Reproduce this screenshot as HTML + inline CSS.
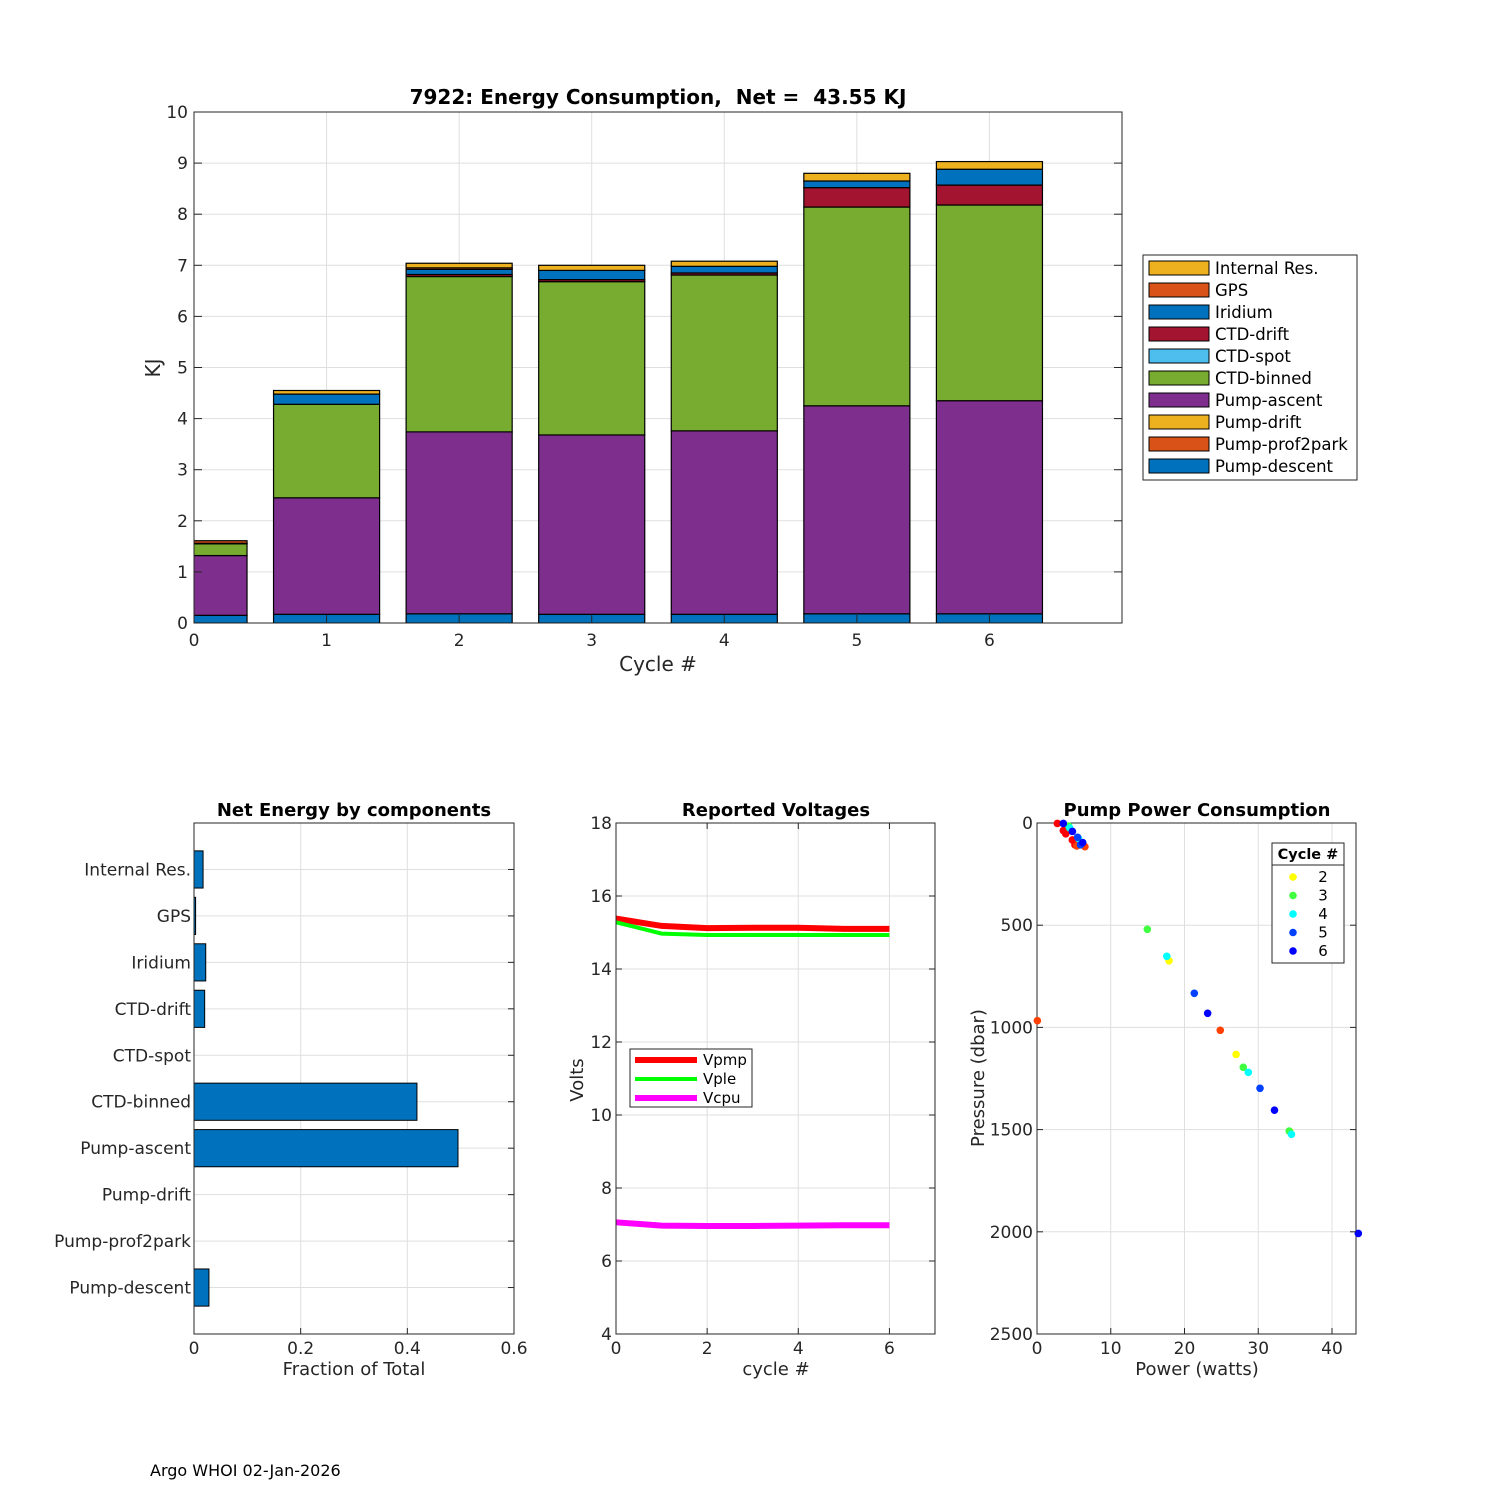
<!DOCTYPE html>
<html><head><meta charset="utf-8"><style>
html,body{margin:0;padding:0;background:#fff;}
svg{display:block;font-family:"DejaVu Sans","Liberation Sans",sans-serif;}
text{white-space:pre;}
</style></head><body>
<svg id="fig" width="1500" height="1500" viewBox="0 0 1500 1500" xmlns="http://www.w3.org/2000/svg">
<rect width="1500" height="1500" fill="#fff"/>
<g id="top"></g>
<g id="bl"></g>
<g id="bm"></g>
<g id="br"></g>
<text x="150" y="1476" font-size="16" fill="#000">Argo WHOI 02-Jan-2026</text>
</svg>
<script>
// ---- Top chart data ----
const cycles = [0,1,2,3,4,5,6];
const components = ["Pump-descent","Pump-prof2park","Pump-drift","Pump-ascent","CTD-binned","CTD-spot","CTD-drift","Iridium","GPS","Internal Res."];
const compColors = ["#0072bd","#d95319","#edb120","#7e2f8e","#77ac30","#4dbeee","#a2142f","#0072bd","#d95319","#edb120"];
const pumpDescent = [0.15,0.17,0.18,0.17,0.17,0.18,0.18];
const pumpProf2park = [0,0,0,0,0,0,0];
const pumpDrift = [0,0,0,0,0,0,0];
const pumpAscent = [1.17,2.28,3.56,3.51,3.59,4.07,4.17];
const ctdBinned = [0.23,1.83,3.04,3.00,3.05,3.89,3.83];
const ctdSpot = [0,0,0,0,0,0,0];
const ctdDrift = [0,0,0.04,0.04,0.04,0.38,0.39];
const iridium = [0.01,0.2,0.10,0.18,0.13,0.13,0.31];
const gps = [0.05,0,0.03,0,0,0,0];
const internalRes = [0,0.07,0.09,0.10,0.10,0.15,0.15];
const topYTicks = [0,1,2,3,4,5,6,7,8,9,10];
const topXTicks = [0,1,2,3,4,5,6];
// ---- Bottom-left data ----
const fracLabels = ["Internal Res.","GPS","Iridium","CTD-drift","CTD-spot","CTD-binned","Pump-ascent","Pump-drift","Pump-prof2park","Pump-descent"];
const fracValues = [0.017,0.003,0.022,0.020,0,0.418,0.495,0,0,0.028];
const fracTicks = [0,0.2,0.4,0.6];
// ---- Voltages ----
const vCycles = [0,1,2,3,4,5,6];
const vpmp = [15.38,15.18,15.12,15.13,15.13,15.10,15.10];
const vple = [15.28,14.97,14.93,14.93,14.93,14.93,14.93];
const vcpu = [7.06,6.97,6.96,6.96,6.97,6.98,6.98];
const vYTicks = [4,6,8,10,12,14,16,18];
const vXTicks = [0,2,4,6];
// ---- Pump power ----
const ppCycle = [0,0,0,0,0, 1,1,1,1, 2,2,2, 3,3,3,3, 4,4,4,4,4, 5,5,5,5, 6,6,6,6,6,6];
const ppPower = [2.76,3.57,3.9,4.79,5.15, 6.5,0.05,24.85,5.4, 17.9,27.0,34.3, 14.96,27.97,34.2,4.3, 17.6,28.65,34.5,4.43,5.65, 21.33,30.24,5.5,5.9, 3.57,4.8,23.14,32.2,43.57,6.2];
const ppPressure = [2,37,53,83,107, 116,967,1014,112, 674,1132,1510, 520,1195,1507,15, 652,1220,1523,24,77, 833,1298,70,107, 2,41,931,1405,2008,96];
const ppXTicks = [0,10,20,30,40];
const ppYTicks = [0,500,1000,1500,2000,2500];
const cycleColors = ["#ff0000","#ff4000","#ffff00","#40ff40","#00ffff","#0040ff","#0000ff"];

const NS="http://www.w3.org/2000/svg";
function mk(parent,tag,attrs){const e=document.createElementNS(NS,tag);for(const k in attrs)e.setAttribute(k,attrs[k]);parent.appendChild(e);return e;}
function txt(parent,x,y,s,size,anchor,extra){const t=mk(parent,"text",Object.assign({x:x,y:y,"font-size":size,"text-anchor":anchor||"middle",fill:"#262626"},extra||{}));t.textContent=s;return t;}
const GRID="#dfdfdf", AX="#262626";

// ===== Top chart =====
(function(){
const g=document.getElementById("top");
const L=194,R=1122,T=112,B=623;
const xs=v=>L+(v-0)*(R-L)/7, ys=v=>B-(v-0)*(B-T)/10;
topXTicks.forEach(v=>{const l=mk(g,"line",{x1:xs(v),x2:xs(v),y1:T,y2:B,stroke:GRID});});
topYTicks.forEach(v=>{const l=mk(g,"line",{x1:L,x2:R,y1:ys(v),y2:ys(v),stroke:GRID});});
const series=[pumpDescent,pumpProf2park,pumpDrift,pumpAscent,ctdBinned,ctdSpot,ctdDrift,iridium,gps,internalRes];
const clip=mk(g,"clipPath",{id:"topclip"});mk(clip,"rect",{x:L,y:T,width:R-L,height:B-T});
const bg=mk(g,"g",{"clip-path":"url(#topclip)"});
cycles.forEach((c,i)=>{let base=0;series.forEach((s,k)=>{const v=s[i];if(v<=0)return;const x0=xs(c-0.4),x1=xs(c+0.4);
const r=mk(bg,"rect",{x:x0,y:ys(base+v),width:x1-x0,height:ys(base)-ys(base+v),fill:compColors[k],stroke:"#000","stroke-width":1.2});

base+=v;});});
mk(g,"rect",{x:L,y:T,width:R-L,height:B-T,fill:"none",stroke:AX,"stroke-width":1});
topYTicks.forEach(v=>{mk(g,"line",{x1:L,x2:L+8,y1:ys(v),y2:ys(v),stroke:AX});mk(g,"line",{x1:R,x2:R-8,y1:ys(v),y2:ys(v),stroke:AX});
const t=txt(g,L-6,ys(v)+6,String(v),17,"end");});
topXTicks.forEach(v=>{mk(g,"line",{x1:xs(v),x2:xs(v),y1:B,y2:B-8,stroke:AX});
const t=txt(g,xs(v),B+23,String(v),17);});
let t=txt(g,658,671,"Cycle #",20);
t=txt(g,0,0,"KJ",20,"middle",{transform:"translate(160,368) rotate(-90)"});
t=txt(g,658,104,"7922: Energy Consumption,  Net =  43.55 KJ",20,"middle",{"font-weight":"bold",fill:"#000"});
// legend
const lg=mk(g,"g",{});
mk(lg,"rect",{x:1143,y:255,width:214,height:225,fill:"#fff",stroke:AX});
for(let k=components.length-1,j=0;k>=0;k--,j++){const y=268+j*22;
const e=mk(lg,"g",{});
mk(e,"rect",{x:1149,y:y-7,width:60,height:14,fill:compColors[k],stroke:"#000"});
txt(e,1215,y+6,components[k],16.5,"start",{fill:"#000"});}
})();

// ===== Bottom-left =====
(function(){
const g=document.getElementById("bl");
const L=194,R=514,T=823,B=1334;
const xs=v=>L+v*(R-L)/0.6, ys=i=>T+(i+1)*(B-T)/11;
fracTicks.forEach(v=>mk(g,"line",{x1:xs(v),x2:xs(v),y1:T,y2:B,stroke:GRID}));
fracLabels.forEach((l,i)=>mk(g,"line",{x1:L,x2:R,y1:ys(i),y2:ys(i),stroke:GRID}));
const h=0.8*(B-T)/11;
fracLabels.forEach((l,i)=>{const v=fracValues[i];if(v<=0)return;
const r=mk(g,"rect",{x:xs(0),y:ys(i)-h/2,width:xs(v)-xs(0),height:h,fill:"#0072bd",stroke:"#000","stroke-width":1});
});
mk(g,"rect",{x:L,y:T,width:R-L,height:B-T,fill:"none",stroke:AX});
fracLabels.forEach((l,i)=>{mk(g,"line",{x1:R,x2:R-6,y1:ys(i),y2:ys(i),stroke:AX});
const t=txt(g,L-3,ys(i)+6,l,17,"end");});
fracTicks.forEach(v=>{mk(g,"line",{x1:xs(v),x2:xs(v),y1:B,y2:B-6,stroke:AX});
const t=txt(g,xs(v),B+20,String(v),17);});
let t=txt(g,354,1375,"Fraction of Total",18);
t=txt(g,354,816,"Net Energy by components",18,"middle",{"font-weight":"bold",fill:"#000"});
})();

// ===== Bottom-middle =====
(function(){
const g=document.getElementById("bm");
const L=616,R=935,T=823,B=1334;
const xs=v=>L+v*(R-L)/7, ys=v=>B-(v-4)*(B-T)/14;
vXTicks.forEach(v=>mk(g,"line",{x1:xs(v),x2:xs(v),y1:T,y2:B,stroke:GRID}));
vYTicks.forEach(v=>mk(g,"line",{x1:L,x2:R,y1:ys(v),y2:ys(v),stroke:GRID}));
const sets=[[vpmp,"#ff0000","Vpmp"],[vple,"#00ff00","Vple"],[vcpu,"#ff00ff","Vcpu"]];
sets.forEach(([d,c,n])=>{const p=mk(g,"polyline",{points:vCycles.map((x,i)=>xs(x)+","+ys(d[i])).join(" "),fill:"none",stroke:c,"stroke-width":n==="Vple"?4:6});
});
mk(g,"rect",{x:L,y:T,width:R-L,height:B-T,fill:"none",stroke:AX});
vYTicks.forEach(v=>{mk(g,"line",{x1:L,x2:L+6,y1:ys(v),y2:ys(v),stroke:AX});mk(g,"line",{x1:R,x2:R-6,y1:ys(v),y2:ys(v),stroke:AX});
const t=txt(g,L-4,ys(v)+6,String(v),17,"end");});
vXTicks.forEach(v=>{mk(g,"line",{x1:xs(v),x2:xs(v),y1:B,y2:B-6,stroke:AX});mk(g,"line",{x1:xs(v),x2:xs(v),y1:T,y2:T+6,stroke:AX});
const t=txt(g,xs(v),B+20,String(v),17);});
let t=txt(g,776,1375,"cycle #",18);
t=txt(g,0,0,"Volts",18,"middle",{transform:"translate(583,1080) rotate(-90)"});
t=txt(g,776,816,"Reported Voltages",18,"middle",{"font-weight":"bold",fill:"#000"});
const lg=mk(g,"g",{});
mk(lg,"rect",{x:630,y:1049,width:122,height:58,fill:"#fff",stroke:AX});
sets.forEach(([d,c,n],j)=>{const y=1060+j*19;mk(lg,"line",{x1:635,x2:697,y1:y,y2:y,stroke:c,"stroke-width":n==="Vple"?4:6});txt(lg,703,y+5,n,15,"start",{fill:"#000"});});
})();

// ===== Bottom-right =====
(function(){
const g=document.getElementById("br");
const L=1037,R=1356,T=823,B=1334;
const xs=v=>L+v*7.375, ys=v=>T+v*(B-T)/2500;
ppXTicks.forEach(v=>mk(g,"line",{x1:xs(v),x2:xs(v),y1:T,y2:B,stroke:GRID}));
ppYTicks.forEach(v=>mk(g,"line",{x1:L,x2:R,y1:ys(v),y2:ys(v),stroke:GRID}));
mk(g,"rect",{x:L,y:T,width:R-L,height:B-T,fill:"none",stroke:AX});
ppPower.forEach((p,i)=>{const c=mk(g,"circle",{cx:xs(p),cy:ys(ppPressure[i]),r:3.8,fill:cycleColors[ppCycle[i]]});
});
ppYTicks.forEach(v=>{mk(g,"line",{x1:L,x2:L+6,y1:ys(v),y2:ys(v),stroke:AX});mk(g,"line",{x1:R,x2:R-6,y1:ys(v),y2:ys(v),stroke:AX});
const t=txt(g,L-4,ys(v)+6,String(v),17,"end");});
ppXTicks.forEach(v=>{mk(g,"line",{x1:xs(v),x2:xs(v),y1:B,y2:B-6,stroke:AX});
const t=txt(g,xs(v),B+20,String(v),17);});
let t=txt(g,1197,1375,"Power (watts)",18);
t=txt(g,0,0,"Pressure (dbar)",18,"middle",{transform:"translate(984,1078) rotate(-90)"});
t=txt(g,1197,816,"Pump Power Consumption",18,"middle",{"font-weight":"bold",fill:"#000"});
const lg=mk(g,"g",{});
mk(lg,"rect",{x:1272,y:843,width:72,height:120,fill:"#fff",stroke:AX});
mk(lg,"line",{x1:1272,x2:1344,y1:865,y2:865,stroke:AX});
txt(lg,1308,859,"Cycle #",14.5,"middle",{"font-weight":"bold",fill:"#000"});
[2,3,4,5,6].forEach((c,j)=>{const y=877+j*18.5;mk(lg,"circle",{cx:1293,cy:y,r:3.8,fill:cycleColors[c]});txt(lg,1323,y+5,String(c),15,"middle",{fill:"#000"});});
})();
</script>
</body></html>
